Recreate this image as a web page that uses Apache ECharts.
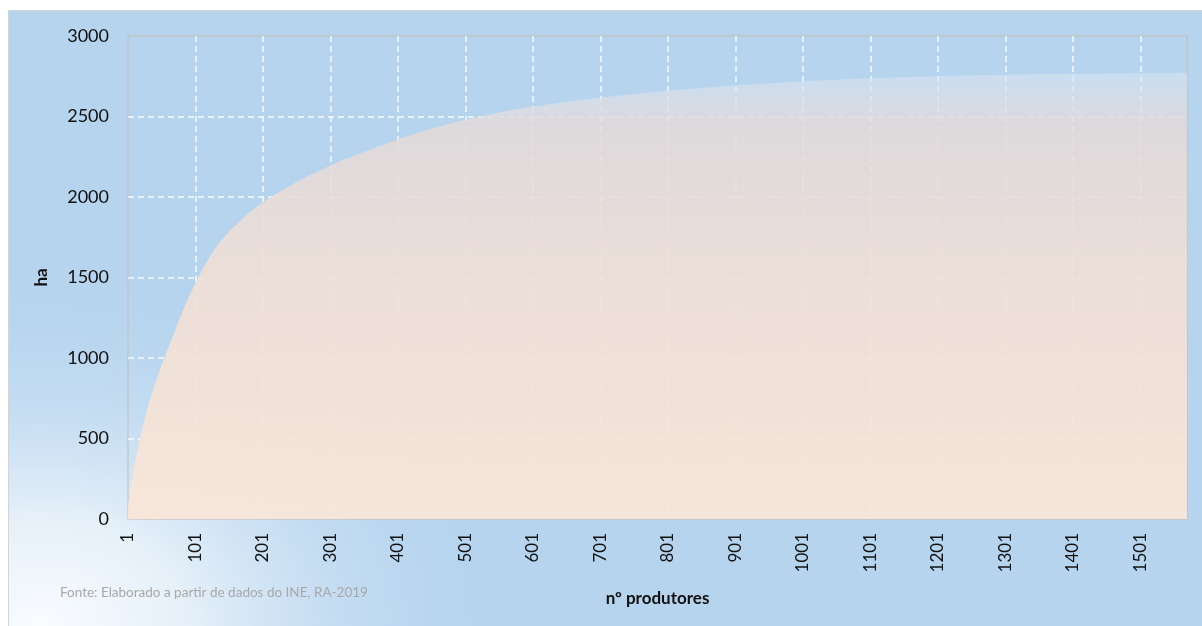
<!DOCTYPE html>
<html>
<head>
<meta charset="utf-8">
<title>Área acumulada por produtor</title>
<script src="https://cdn.jsdelivr.net/npm/echarts@6/dist/echarts.min.js"></script>
<style>
  html, body { margin: 0; padding: 0; background: #ffffff; }
  #chart { width: 1202px; height: 626px; }
</style>
</head>
<body>
<div id="chart"></div>
<script>
// Cumulative area (ha) by producer rank, largest producers first
const producers = [1, 5, 10, 20, 35, 50, 67, 85, 108, 130, 152, 180, 213, 250, 301, 354, 403, 452, 501, 551, 601, 651, 701, 801, 901, 1001, 1101, 1201, 1301, 1401, 1501, 1570];
const hectares  = [70, 190, 320, 525, 760, 945, 1130, 1320, 1525, 1680, 1790, 1900, 2000, 2090, 2195, 2285, 2360, 2425, 2480, 2525, 2562, 2592, 2617, 2660, 2693, 2718, 2737, 2750, 2759, 2765, 2769, 2772];
const yTicks = { min: 0, max: 3000, step: 500 };
const xTicks = { first: 1, last: 1570, step: 100 };
const axisTitles = { x: 'nº produtores', y: 'ha' };
const sourceNote = 'Fonte: Elaborado a partir de dados do INE, RA-2019';

const FONT = 'Lato, "Open Sans", sans-serif';
const BLUE = 'rgb(182,212,238)';

// x position counts producers before the current one, so ticks land on 1, 101, 201, ...
const seriesData = producers.map((p, i) => [p - xTicks.first, hectares[i]]);

const chart = echarts.init(document.getElementById('chart'), null, { renderer: 'canvas' });

const dashed = { color: 'rgba(255,255,255,0.85)', width: 1.5, type: [6, 4] };

chart.setOption({
  backgroundColor: '#ffffff',
  animation: false,
  textStyle: { fontFamily: FONT },
  graphic: [
    {
      type: 'rect', z: -100, silent: true,
      shape: { x: 8, y: 10, width: 1210, height: 630 },
      style: { fill: BLUE }
    },
    {
      // soft pale glow in the lower-left corner of the panel
      type: 'circle', z: -99, silent: true,
      x: 40, y: 625, scaleX: 1.35, scaleY: 1,
      shape: { cx: 0, cy: 0, r: 360 },
      style: {
        fill: new echarts.graphic.RadialGradient(0.5, 0.5, 0.5, [
          { offset: 0, color: 'rgba(250,252,255,1)' },
          { offset: 0.3, color: 'rgba(238,245,251,0.85)' },
          { offset: 0.65, color: 'rgba(212,230,246,0.4)' },
          { offset: 1, color: 'rgba(182,212,238,0)' }
        ])
      }
    },
    {
      type: 'rect', z: -98, silent: true,
      shape: { x: 0, y: 0, width: 8, height: 626 },
      style: { fill: '#ffffff' }
    },
    {
      type: 'polyline', z: -97, silent: true,
      shape: { points: [[8.5, 640], [8.5, 10.5], [1210, 10.5]] },
      style: { stroke: '#d4d4d4', lineWidth: 1, fill: null }
    },
    {
      type: 'text', z: 10, silent: true,
      x: 60, y: 593,
      style: {
        text: sourceNote, fill: '#a8a8a8',
        font: '13.5px ' + FONT, textVerticalAlign: 'middle', textAlign: 'left'
      }
    }
  ],
  grid: {
    left: 128, right: 15, top: 36, bottom: 107,
    show: true, borderColor: '#c4bcb2', borderWidth: 1,
    backgroundColor: 'transparent'
  },
  xAxis: {
    type: 'value',
    min: 0,
    max: xTicks.last - xTicks.first,
    interval: xTicks.step,
    name: axisTitles.x,
    nameLocation: 'middle',
    nameGap: 71,
    nameTextStyle: { color: '#111', fontSize: 17, fontWeight: 'bold', fontFamily: FONT },
    axisLine: { show: false },
    axisTick: { show: false },
    axisLabel: {
      rotate: 90, margin: 14, color: '#111', fontSize: 17, fontFamily: FONT,
      showMaxLabel: false,
      formatter: v => String(v + xTicks.first)
    },
    splitLine: { show: true, showMinLine: false, showMaxLine: false, lineStyle: dashed }
  },
  yAxis: {
    type: 'value',
    min: yTicks.min, max: yTicks.max, interval: yTicks.step,
    name: axisTitles.y,
    nameLocation: 'middle',
    nameGap: 78,
    nameRotate: 90,
    nameTextStyle: { color: '#111', fontSize: 17, fontWeight: 'bold', fontFamily: FONT },
    axisLine: { show: false },
    axisTick: { show: false },
    axisLabel: { margin: 19, color: '#111', fontSize: 18, fontFamily: FONT, formatter: v => String(v) },
    splitLine: { show: true, showMinLine: false, showMaxLine: false, lineStyle: dashed }
  },
  series: [
    {
      type: 'line',
      data: seriesData,
      showSymbol: false,
      smooth: 0.25,
      lineStyle: { width: 0 },
      areaStyle: {
        opacity: 1,
        color: new echarts.graphic.LinearGradient(0, 72, 0, 519, [
          { offset: 0, color: 'rgba(214,228,243,0.6)' },
          { offset: 0.12, color: 'rgba(228,218,217,0.85)' },
          { offset: 0.45, color: 'rgba(240,223,214,0.92)' },
          { offset: 1, color: 'rgba(249,230,216,0.95)' }
        ], true)
      },
      z: 2
    }
  ]
});
</script>
</body>
</html>
